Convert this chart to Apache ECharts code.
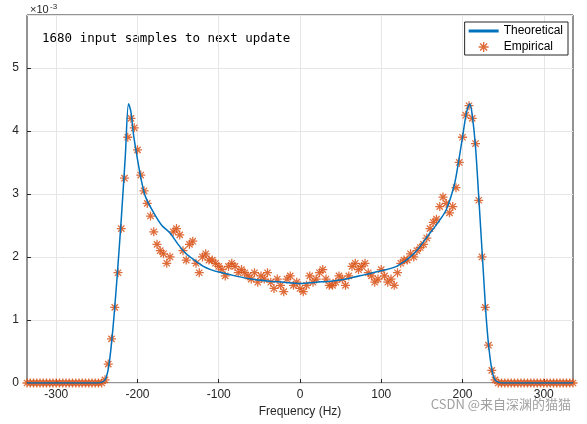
<!DOCTYPE html><html><head><meta charset="utf-8"><script src="https://cdn.jsdelivr.net/npm/echarts@6/dist/echarts.min.js"></script>
<style>body{margin:0}#c{width:587px;height:424px}</style></head><body><div id="c"></div><script>
const theoX=[-336,-250,-240,-235,-230,-225,-220,-215,-211,-208,-205,-200,-195,-190,-180,-170,-160,-150,-140,-130,-120,-110,-100,-80,-60,-40,-20,0,20,40,60,80,100,120,140,160,170,180,190,195,200,205,209,212,216,220,225,230,235,240,250,336];
const theoY=[0,0,0.05,0.3,0.9,1.7,2.6,3.6,4.43,4.3,3.95,3.55,3.2,2.95,2.7,2.5,2.38,2.2,2.05,1.95,1.86,1.8,1.76,1.7,1.65,1.62,1.6,1.58,1.6,1.62,1.66,1.72,1.78,1.86,2.05,2.38,2.55,2.75,3.15,3.5,3.9,4.3,4.43,4.25,3.75,2.95,1.9,0.9,0.3,0.05,0,0];
const empX=[];for(let v=-336;v<=336;v+=4)empX.push(v);
const empY=[0,0,0,0,0,0,0,0,0,0,0,0,0,0,0,0,0,0,0,0,0,0,0,0,
0.05,0.3,0.7,1.2,1.75,2.45,3.25,3.9,4.2,4.05,3.7,3.3,3.05,2.85,2.65,2.4,2.2,2.1,2.05,1.9,2.0,2.4,2.45,2.35,2.1,1.95,2.2,2.25,1.9,1.75,2.0,2.05,1.95,1.95,1.9,1.85,1.8,1.7,1.85,1.9,1.85,1.75,1.8,1.75,1.7,1.65,1.75,1.6,1.7,1.65,1.75,1.6,1.5,1.65,1.55,1.45,1.65,1.7,1.55,1.6,
1.5,1.45,1.55,1.7,1.6,1.65,1.75,1.8,1.65,1.55,1.55,1.6,1.7,1.65,1.55,1.7,1.85,1.9,1.8,1.85,1.9,1.75,1.7,1.6,1.65,1.8,1.7,1.6,1.65,1.55,1.75,1.9,1.95,1.95,2.05,2.0,2.1,2.15,2.2,2.3,2.45,2.55,2.6,2.8,2.95,2.85,2.7,2.8,3.1,3.5,3.9,4.25,4.4,4.2,3.8,2.9,2.0,1.2,0.6,0.2,0.05,
0,0,0,0,0,0,0,0,0,0,0,0,0,0,0,0,0,0,0,0,0,0,0,0,0];
const xTicks=[-300,-200,-100,0,100,200,300];
const ast='path://M0,4.3L10,4.3L10,5.7L0,5.7ZM4.3,0L5.7,0L5.7,10L4.3,10ZM1,2L2,1L9,8L8,9ZM8,1L9,2L2,9L1,8Z';
const ch=echarts.init(document.getElementById('c'));
const F='Arial, Liberation Sans, sans-serif';
ch.setOption({animation:false,
grid:{left:27,right:14,top:15,bottom:41,show:true,borderColor:'#262626',borderWidth:1},
xAxis:{type:'value',min:-336,max:336,name:'Frequency (Hz)',nameLocation:'middle',nameGap:20,nameTextStyle:{fontFamily:F,fontSize:12,color:'#262626'},
 axisLine:{show:false,onZero:false},axisTick:{show:true,inside:true,length:4,customValues:xTicks,lineStyle:{color:'#262626'}},
 axisLabel:{customValues:xTicks,fontFamily:F,fontSize:12,color:'#262626',margin:6},
 splitLine:{show:true,lineStyle:{color:'#e6e6e6'}}},
yAxis:{type:'value',min:0,max:5.84,interval:1,axisLine:{show:false,onZero:false},axisTick:{show:true,inside:true,length:4,lineStyle:{color:'#262626'}},
 axisLabel:{fontFamily:F,fontSize:12,color:'#262626',margin:8,showMaxLabel:false,formatter:v=>v<=5?String(v):''},
 splitLine:{show:true,lineStyle:{color:'#e6e6e6'}}},
legend:{right:19,top:22,orient:'vertical',itemGap:4,itemWidth:30,itemHeight:10,backgroundColor:'#fff',borderColor:'#262626',borderWidth:1,padding:[3,5,2,4],textStyle:{fontFamily:F,fontSize:12,color:'#000'},
 data:[{name:'Theoretical',icon:'path://M0,4.5L10,4.5L10,5.5L0,5.5Z'},{name:'Empirical',icon:ast}]},
graphic:[
 {type:'text',left:30,top:4,style:{text:'×10',fontFamily:F,fontSize:11,fill:'#262626'}},
 {type:'text',left:50,top:3,style:{text:'-3',fontFamily:F,fontSize:8,fill:'#262626'}},
 {type:'text',left:42,top:32,style:{text:'1680 input samples to next update',fontFamily:'DejaVu Sans Mono, monospace',fontSize:12.5,fill:'#000'}},
 {type:'text',right:16,top:398,style:{text:'CSDN @来自深渊的猫猫',fontFamily:'Noto Sans CJK SC',fontSize:13,fill:'#a0a0a0'}}
],
series:[
 {name:'Theoretical',type:'line',smooth:0.3,showSymbol:false,data:theoX.map((x,i)=>[x,theoY[i]]),lineStyle:{color:'#0072BD',width:1.5},itemStyle:{color:'#0072BD'},z:3},
 {name:'Empirical',type:'scatter',symbol:ast,symbolSize:9,data:empX.map((x,i)=>[x,empY[i]]),itemStyle:{color:'#D95319',opacity:0.85},z:2}
]});
</script></body></html>
